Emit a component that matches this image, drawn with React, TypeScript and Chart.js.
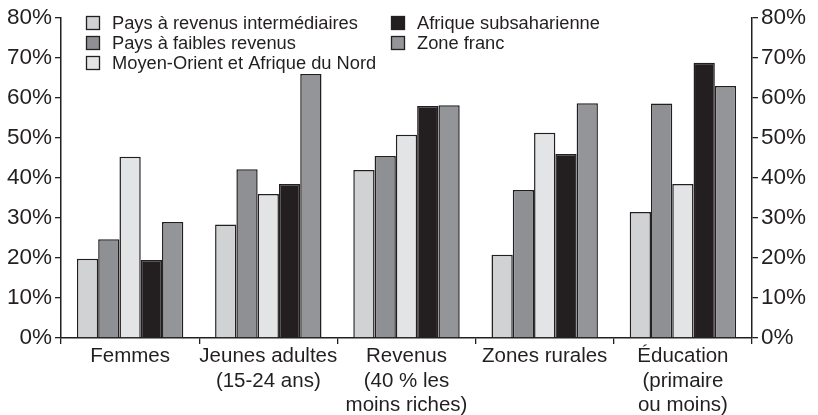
import React, { useEffect, useRef } from "react";
import { Chart, registerables } from "chart.js";

Chart.register(...registerables);

const categories: (string | string[])[] = [
  "Femmes",
  ["Jeunes adultes", "(15-24 ans)"],
  ["Revenus", "(40 % les", "moins riches)"],
  "Zones rurales",
  ["Éducation", "(primaire", "ou moins)"],
];

const seriesNames = [
  "Pays à revenus intermédiaires",
  "Pays à faibles revenus",
  "Moyen-Orient et Afrique du Nord",
  "Afrique subsaharienne",
  "Zone franc",
];

const paysRevenusIntermediaires = [19.8, 28.4, 42.0, 20.8, 31.5];
const paysFaiblesRevenus = [24.7, 42.2, 45.5, 37.0, 58.6];
const moyenOrientAfriqueNord = [45.3, 36.0, 50.8, 51.3, 38.5];
const afriqueSubsaharienne = [19.5, 38.5, 58.0, 46.0, 68.8];
const zoneFranc = [29.0, 66.0, 58.2, 58.7, 63.0];

const seriesColors = ["#d1d2d4", "#8f9093", "#e3e4e6", "#231f20", "#939598"];
const tickValues = [0, 10, 20, 30, 40, 50, 60, 70, 80];

const FONT = "'Liberation Sans', Arial, sans-serif";
const INK = "#231f20";

const legendPlugin = {
  id: "customLegend",
  afterDraw(chart: any) {
    const ctx = chart.ctx;
    const cols = [
      { boxX: 86, items: [0, 1, 2] },
      { boxX: 391, items: [3, 4] },
    ];
    const rowY = [23, 43, 63];
    ctx.save();
    ctx.font = `18.3px ${FONT}`;
    ctx.textBaseline = "middle";
    ctx.textAlign = "left";
    cols.forEach((col) => {
      col.items.forEach((idx, r) => {
        const y = rowY[r];
        ctx.fillStyle = seriesColors[idx];
        ctx.fillRect(col.boxX, y - 7, 14, 14);
        ctx.lineWidth = 1.3;
        ctx.strokeStyle = INK;
        ctx.strokeRect(col.boxX + 0.5, y - 6.5, 13, 13);
        ctx.fillStyle = INK;
        ctx.fillText(seriesNames[idx], col.boxX + 26, y + 1);
      });
    });
    ctx.restore();
  },
};

export default function App() {
  const ref = useRef<HTMLCanvasElement>(null);
  useEffect(() => {
    if (!ref.current) return;
    const values = [
      paysRevenusIntermediaires,
      paysFaiblesRevenus,
      moyenOrientAfriqueNord,
      afriqueSubsaharienne,
      zoneFranc,
    ];
    const yTicks = {
      color: INK,
      font: { family: FONT, size: 22.5 },
      padding: 3,
      callback: (v: any) => `${v}%`,
    };
    const yGrid = {
      display: true,
      drawOnChartArea: false,
      drawTicks: true,
      tickLength: 6,
      color: INK,
      lineWidth: 1.3,
    };
    const chart = new Chart(ref.current, {
      type: "bar",
      data: {
        labels: categories,
        datasets: values.map((d, i) => ({
          label: seriesNames[i],
          data: d,
          backgroundColor: seriesColors[i],
          borderColor: INK,
          borderWidth: 1.5,
          borderSkipped: "bottom",
          categoryPercentage: 0.77,
          barPercentage: 1,
          yAxisID: "y",
        })),
      },
      options: {
        animation: false,
        responsive: false,
        maintainAspectRatio: false,
        layout: { padding: { top: 18, bottom: 0, left: 0, right: 0 } },
        plugins: { legend: { display: false }, tooltip: { enabled: false } },
        scales: {
          x: {
            offset: true,
            grid: {
              display: true,
              offset: true,
              drawOnChartArea: false,
              drawTicks: true,
              tickLength: 6,
              color: INK,
              lineWidth: 1.3,
            },
            border: { display: true, color: INK, width: 1.5 },
            ticks: {
              color: INK,
              font: { family: FONT, size: 20.5, lineHeight: 1.2 },
              padding: 0,
              maxRotation: 0,
              autoSkip: false,
            },
            afterFit: (s: any) => {
              s.height = 77;
            },
          },
          y: {
            position: "left",
            min: 0,
            max: 80,
            afterBuildTicks: (s: any) => {
              s.ticks = tickValues.map((v) => ({ value: v }));
            },
            grid: yGrid,
            border: { display: true, color: INK, width: 1.5 },
            ticks: yTicks,
            afterFit: (s: any) => {
              s.width = 61;
            },
          },
          y2: {
            position: "right",
            min: 0,
            max: 80,
            afterBuildTicks: (s: any) => {
              s.ticks = tickValues.map((v) => ({ value: v }));
            },
            grid: yGrid,
            border: { display: true, color: INK, width: 1.5 },
            ticks: yTicks,
            afterFit: (s: any) => {
              s.width = 66;
            },
          },
        },
      },
      plugins: [legendPlugin],
    } as any);
    return () => chart.destroy();
  }, []);
  return (
    <div style={{ position: "fixed", left: 0, top: 0, width: 818, height: 415, background: "#fff" }}>
      <canvas ref={ref} width={818} height={415} style={{ display: "block" }} />
    </div>
  );
}
